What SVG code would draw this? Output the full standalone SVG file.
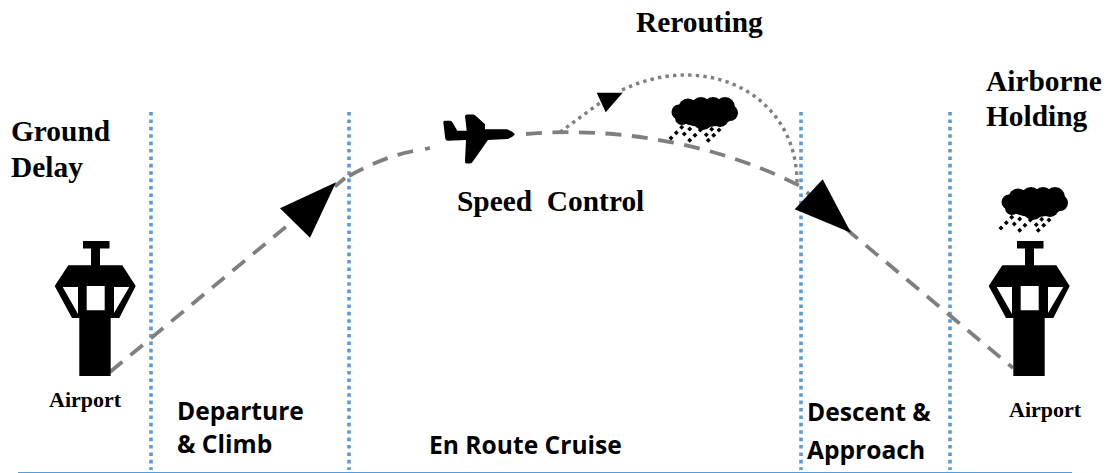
<svg xmlns="http://www.w3.org/2000/svg" xmlns:xlink="http://www.w3.org/1999/xlink" width="1114" height="473" viewBox="0 0 1114 473">
<style>
.serif{font-family:"Liberation Serif","Times New Roman",serif;font-weight:700;fill:#000}
.sans{font-family:"Open Sans","Noto Sans",sans-serif;font-weight:700;fill:#000;font-size:24.600px}
.big{font-size:29.400px}
.small{font-size:22px}
.phase{fill:none;stroke:#5b9bd5;stroke-width:3.6;stroke-dasharray:3.6 3.8}
.route{fill:none;stroke:#7f7f7f;stroke-width:3.8;stroke-dasharray:16 10.500}
.dots{fill:none;stroke:#7f7f7f;stroke-width:3.4;stroke-dasharray:3.4 4.2}
</style>
<defs>
<g id="tower">
<path d="M83 241H109.500V248.500H100V265.300H122.300L135.700 286L119.300 318H110.700V376H79.300V318H72L54.700 286L68.300 265.300H91V248.500H83Z" fill="#000"/>
<path d="M62.700 287H78V314ZM86.700 286H104.700V310.300H86.700ZM114 287H129.300L114 313Z" fill="#fff"/>
</g>
<g id="cloud">
<g fill="#000">
<ellipse cx="1035" cy="203" rx="30" ry="14"/>
<circle cx="1018" cy="198" r="9.500"/><circle cx="1031" cy="197" r="10"/><circle cx="1043" cy="197" r="10"/><circle cx="1055" cy="197" r="10"/>
<circle cx="1009" cy="202" r="7.500"/><circle cx="1060" cy="203" r="8"/><circle cx="1012" cy="208" r="7"/><circle cx="1033" cy="210" r="10"/><circle cx="1050" cy="208" r="9"/>
</g>
<path d="M1001 225.500l2.500 2.500l-2.500 2.500l-2.500-2.500ZM1006.300 220.200l2.500 2.500l-2.500 2.500l-2.500-2.500ZM1011.700 214.800l2.500 2.500l-2.500 2.500l-2.500-2.500ZM1014.300 221.500l2.500 2.500l-2.500 2.500l-2.500-2.500ZM1019.700 227.800l2.500 2.500l-2.500 2.500l-2.500-2.500ZM1025 222.800l2.500 2.500l-2.500 2.500l-2.500-2.500ZM1036.300 222.200l2.500 2.500l-2.500 2.500l-2.500-2.500ZM1038.300 227.800l2.500 2.500l-2.500 2.500l-2.500-2.500ZM1043.700 222.800l2.500 2.500l-2.500 2.500l-2.500-2.500ZM1049 217.500l2.500 2.500l-2.500 2.500l-2.500-2.500ZM1019.700 216.500l2.500 2.500l-2.500 2.500l-2.500-2.500ZM1030.300 217.500l2.500 2.500l-2.500 2.500l-2.500-2.500ZM1041.700 216.800l2.500 2.500l-2.500 2.500l-2.500-2.500Z" fill="#000"/>
</g>
</defs>

<g id="phase-lines">
<path class="phase" d="M151 112V470"/>
<path class="phase" d="M349 112V470"/>
<path class="phase" d="M801 112V470"/>
<path class="phase" d="M950 112V470"/>
<path d="M18 472.500H1072" fill="none" stroke="#5b9bd5" stroke-width="1"/>
</g>

<g id="connectors">
<path class="route" d="M110 372L345 178"/>
<path class="route" d="M349 176Q385 156 414 151"/>
<path class="route" stroke-width="2" stroke-dasharray="4 4" d="M425 149L430 148"/>
<path class="route" d="M526 134C620 126 720 145 800 186L851 233L1013 368"/>
<path class="dots" d="M560 132L604 100"/>
<path class="dots" d="M622 90C660 72 700 70 735 85C775 103 798 140 797 186"/>
<polygon points="280,208.300 336,182.300 310,237.700" fill="#000"/>
<polygon points="822.700,179.300 794.700,209.300 851,232.700" fill="#000"/>
<polygon points="596.700,92.700 622.700,92.700 605.700,112.300" fill="#000"/>
</g>

<g id="airport-left">
<use href="#tower"/>
<text class="serif small" x="49" y="407">Airport</text>
</g>
<g id="airport-right">
<use href="#tower" x="934"/>
<text class="serif small" x="1009" y="417">Airport</text>
</g>
<g id="plane">
<path d="M443.300 122Q443.500 120.700 445 120.700H450Q451.500 120.700 452.500 122.500L457.300 130.700H466.700L465 116Q465 114.500 467 114.500H473Q475 114.500 476 116L485 124.300V129.300H506.700Q512 130.500 515 134.300Q512 138 507.300 139L488 140L472.500 162Q471.500 163.500 469 163.500H466.500Q465 163.500 465 161L466 140L447.500 140.700Q445.500 140.700 445.200 138Z" fill="#000"/>
</g>
<g id="cloud-enroute"><use href="#cloud" x="-330" y="-90"/></g>
<g id="cloud-holding"><use href="#cloud"/></g>

<g id="label-rerouting"><text class="serif big" x="636" y="32">Rerouting</text></g>
<g id="label-ground-delay"><text class="serif big" x="11" y="141">Ground</text><text class="serif big" x="11" y="177">Delay</text></g>
<g id="label-airborne"><text class="serif big" x="986" y="91">Airborne</text><text class="serif big" x="986" y="126">Holding</text></g>
<g id="label-speed"><text class="serif big" x="457" y="211" xml:space="preserve">Speed  Control</text></g>
<g id="label-departure"><text class="sans" x="177" y="420">Departure</text><text class="sans" x="177" y="453">&amp; Climb</text></g>
<g id="label-cruise"><text class="sans" x="429" y="454">En Route Cruise</text></g>
<g id="label-descent"><text class="sans" x="807" y="421">Descent &amp;</text><text class="sans" x="807" y="459">Approach</text></g>
</svg>
